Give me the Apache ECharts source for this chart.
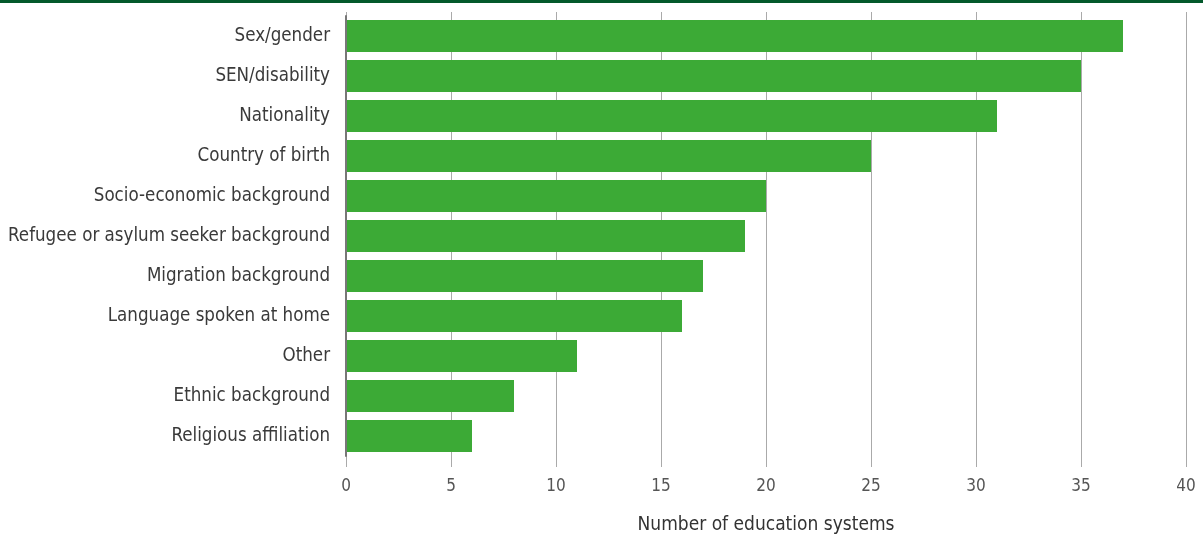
<!DOCTYPE html>
<html><head><meta charset="utf-8">
<script src="https://cdn.jsdelivr.net/npm/echarts@6/dist/echarts.min.js"></script>
<style>html,body{margin:0;padding:0;background:#fff}#topline{position:absolute;left:0;top:0;width:1203px;height:3px;background:#03592b;z-index:2}#c{width:1203px;height:539px}</style>
</head><body><div id="topline"></div><div id="c"></div>
<script>
const categories = ["Sex/gender","SEN/disability","Nationality","Country of birth","Socio-economic background","Refugee or asylum seeker background","Migration background","Language spoken at home","Other","Ethnic background","Religious affiliation"];
const values = [37,35,31,25,20,19,17,16,11,8,6];
const xTicks = [0,5,10,15,20,25,30,35,40];
const axisTitle = "Number of education systems";
const font = "'DejaVu Sans Condensed', sans-serif";
const chart = echarts.init(document.getElementById('c'), null, {renderer:'canvas'});
chart.setOption({
  animation:false,
  grid:{left:346,right:17,top:16,height:440,containLabel:false,outerBoundsMode:'none'},
  xAxis:[{
    type:'value', min:xTicks[0], max:xTicks[xTicks.length-1], interval:5,
    axisLine:{show:false},
    axisTick:{show:true,length:11,lineStyle:{color:'#aaa',width:1}},
    splitLine:{show:true,lineStyle:{color:'#aaa',width:1}},
    axisLabel:{margin:22,fontFamily:font,fontSize:17,color:'#555'},
    name:axisTitle, nameLocation:'middle', nameGap:60,
    nameTextStyle:{fontFamily:font,fontSize:19,color:'#333'}
  },{
    type:'value', position:'top', min:xTicks[0], max:xTicks[xTicks.length-1], interval:5,
    axisLine:{show:false}, axisLabel:{show:false}, splitLine:{show:false},
    axisTick:{show:true,length:4,lineStyle:{color:'#aaa',width:1}}
  }],
  yAxis:{
    type:'category', data:categories, inverse:true, z:10,
    axisLine:{show:true,lineStyle:{color:'#777',width:2}},
    axisTick:{show:false},
    axisLabel:{margin:16,fontFamily:font,fontSize:18.6,color:'#3a3a3a'}
  },
  series:[{type:'bar',data:values,barWidth:32,itemStyle:{color:'#3caa36'},xAxisIndex:0}]
});
</script></body></html>
